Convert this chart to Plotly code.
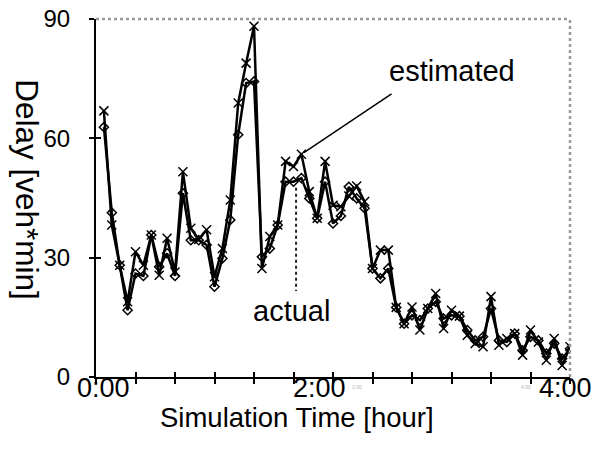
import plotly.graph_objects as go

# Simulation time in minutes (one sample every 4 minutes)
time_min = [4, 8, 12, 16, 20, 24, 28, 32, 36, 40,
            44, 48, 52, 56, 60, 64, 68, 72, 76, 80,
            84, 88, 92, 96, 100, 104, 108, 112, 116, 120,
            124, 128, 132, 136, 140, 144, 148, 152, 156, 160,
            164, 168, 172, 176, 180, 184, 188, 192, 196, 200,
            204, 208, 212, 216, 220, 224, 228, 232, 236, 240]

estimated = [66.9, 38.2, 28.1, 18.9, 31.5, 28.1, 35.7, 25.6, 34.9, 26.4,
             51.6, 37.4, 34.6, 37.0, 25.2, 32.3, 44.5, 68.9, 78.9, 88.2,
             27.3, 35.3, 38.2, 54.2, 52.9, 56.0, 46.6, 39.9, 54.2, 43.2,
             42.8, 45.5, 48.0, 44.1, 27.3, 31.9, 31.9, 17.5, 13.4, 17.6,
             11.8, 17.2, 21.0, 12.2, 16.8, 15.3, 10.5, 8.4, 7.6, 20.2,
             8.0, 9.7, 10.9, 5.5, 11.8, 8.8, 4.2, 9.7, 2.9, 7.6]

actual = [62.8, 41.3, 28.1, 16.8, 26.0, 25.4, 35.7, 27.7, 31.1, 25.4,
          46.2, 34.4, 34.4, 33.2, 22.7, 29.8, 39.5, 60.9, 73.9, 74.3,
          30.2, 32.3, 38.2, 49.1, 49.1, 50.0, 44.9, 39.9, 49.1, 38.6,
          40.5, 47.8, 44.9, 42.4, 27.3, 24.8, 27.3, 17.5, 13.4, 15.5,
          14.3, 17.2, 18.9, 14.7, 15.5, 15.3, 11.8, 9.2, 10.1, 17.2,
          9.2, 8.8, 10.9, 6.7, 10.1, 9.2, 5.9, 8.4, 4.6, 7.1]

x_tick_vals = [0, 20, 40, 60, 80, 100, 120, 140, 160, 180, 200, 220, 240]
x_label_vals = [0, 120, 240]
x_label_text = ["0:00", "2:00", "4:00"]
y_tick_vals = [0, 30, 60, 90]

FONT = "Liberation Sans, Arial, sans-serif"
x_label_shift = [7, -14, -5]

fig = go.Figure()

fig.add_trace(go.Scatter(
    x=time_min, y=actual, mode="lines+markers", name="actual",
    line=dict(color="black", width=2.5),
    marker=dict(symbol="diamond-open", size=7, color="black", line=dict(width=1.5)),
))
fig.add_trace(go.Scatter(
    x=time_min, y=estimated, mode="lines+markers", name="estimated",
    line=dict(color="black", width=2.5),
    marker=dict(symbol="x-thin-open", size=9, color="black", line=dict(width=1.5)),
))
# invisible trace to build the overlay axes (inner half of the crossing ticks)
fig.add_trace(go.Scatter(
    x=time_min, y=actual, mode="lines", xaxis="x2", yaxis="y2",
    line=dict(width=0), opacity=0, hoverinfo="skip", showlegend=False,
))

annotations = [
    # y-axis title, reading top to bottom
    dict(text="Delay [veh*min]", xref="paper", yref="paper",
         x=-0.1456, y=0.522, xanchor="center", yanchor="middle",
         textangle=90, showarrow=False, font=dict(size=31.5, family=FONT)),
    # x-axis title
    dict(text="Simulation Time [hour]", xref="paper", yref="paper",
         x=0.424, y=-0.1145, xanchor="center", yanchor="middle",
         showarrow=False, font=dict(size=27.5, family=FONT)),
    # leader line for "estimated"
    dict(x=time_min[25], y=estimated[25], xref="x", yref="y",
         ax=150.4, ay=71.4, axref="x", ayref="y", text="",
         showarrow=True, arrowhead=0, arrowwidth=1.5, arrowcolor="black",
         standoff=3),
    dict(text="estimated", x=180.3, y=77.0, xref="x", yref="y",
         xanchor="center", yanchor="middle", showarrow=False,
         font=dict(size=29, family=FONT)),
    dict(text="actual", x=99.2, y=16.5, xref="x", yref="y",
         xanchor="center", yanchor="middle", showarrow=False,
         font=dict(size=29, family=FONT)),
    # faint tiny labels under the axis
    dict(text="2:00", x=120, y=-0.042, xref="x", yref="paper", xshift=24,
         showarrow=False, font=dict(size=5, color="#b0b0b0")),
    dict(text="4:00", x=240, y=-0.042, xref="x", yref="paper", xshift=-44,
         showarrow=False, font=dict(size=5, color="#b0b0b0")),
]
# x tick labels
for v, txt, sh in zip(x_label_vals, x_label_text, x_label_shift):
    annotations.append(dict(text=txt, x=v, y=-0.03, xref="x", yref="paper",
                            xanchor="center", yanchor="middle", xshift=sh,
                            showarrow=False, font=dict(size=27, family=FONT)))

fig.update_layout(
    width=596, height=460,
    margin=dict(l=96, r=26, t=19, b=83, autoexpand=False),
    paper_bgcolor="white", plot_bgcolor="white",
    showlegend=False,
    font=dict(family=FONT, color="black"),
    xaxis=dict(range=[0, 240], tickvals=x_tick_vals, showticklabels=False,
               ticks="outside", ticklen=5, tickwidth=1.5, tickcolor="black",
               showline=True, linecolor="black", linewidth=2,
               showgrid=False, zeroline=False, automargin=False),
    yaxis=dict(range=[0, 90], tickvals=y_tick_vals,
               ticks="outside", ticklen=5, tickwidth=1.5, tickcolor="black",
               showline=True, linecolor="black", linewidth=2,
               showgrid=False, zeroline=False, automargin=False,
               tickfont=dict(size=24, family=FONT), ticklabelstandoff=14),
    xaxis2=dict(range=[0, 240], tickvals=x_tick_vals, showticklabels=False,
                overlaying="x", anchor="y2", side="bottom",
                ticks="inside", ticklen=5, tickwidth=1.5, tickcolor="black",
                showline=False, showgrid=False, zeroline=False, automargin=False),
    yaxis2=dict(range=[0, 90], tickvals=y_tick_vals, showticklabels=False,
                overlaying="y", anchor="x2", side="left",
                ticks="inside", ticklen=5, tickwidth=1.5, tickcolor="black",
                showline=False, showgrid=False, zeroline=False, automargin=False),
    shapes=[
        dict(type="line", xref="paper", yref="paper", x0=0, x1=1, y0=1, y1=1,
             line=dict(color="#999999", width=2.5, dash="dot")),
        dict(type="line", xref="paper", yref="paper", x0=1, x1=1, y0=0, y1=1,
             line=dict(color="#999999", width=2.5, dash="dot")),
        # dotted leader line for "actual"
        dict(type="line", xref="x", yref="y", x0=101.3, x1=101.3, y0=47.6, y1=21.6,
             line=dict(color="#222222", width=2, dash="dot")),
    ],
    annotations=annotations,
)

# remove the browser's default 8px page margin so the figure sits at (0, 0)
fig.write_html("out.html",
               config={"displayModeBar": False},
               post_script="document.body.style.margin='0';document.body.style.overflow='hidden';")
